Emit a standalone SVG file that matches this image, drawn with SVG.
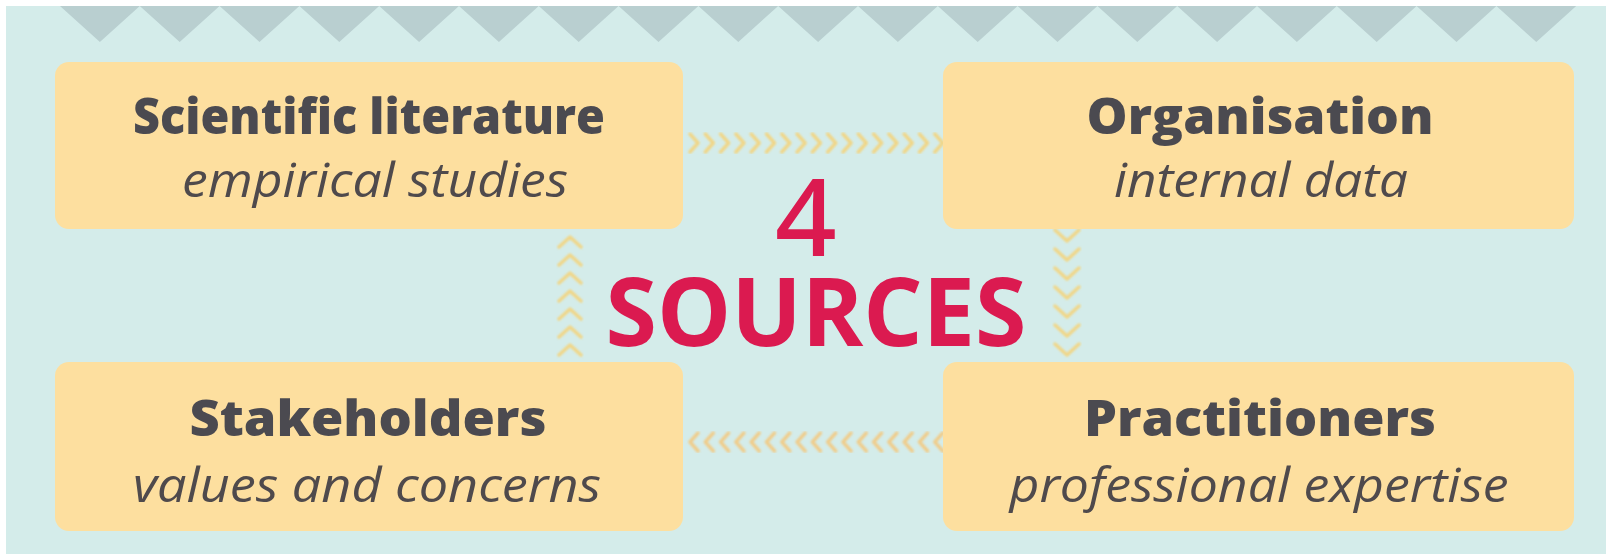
<svg xmlns="http://www.w3.org/2000/svg" width="1606" height="554" viewBox="0 0 1606 554">
  <defs>
    <style>
      .box { fill: #fddf9f; }
      .title { font-family: "Open Sans", "Liberation Sans", sans-serif; font-weight: 800; font-size: 50px; fill: #4b4a50; text-anchor: middle; }
      .sub { font-family: "Open Sans", "Liberation Sans", sans-serif; font-style: italic; font-weight: 400; font-size: 47px; fill: #4f4a4c; text-anchor: middle; }
      .big { font-family: "Open Sans", "Liberation Sans", sans-serif; fill: #db1a50; text-anchor: middle; }
      .digit { font-family: "Noto Sans", "Liberation Sans", sans-serif; font-weight: 500; fill: #db1a50; text-anchor: middle; }
      .chev { fill: none; stroke: #f6d275; stroke-width: 3.5; stroke-linecap: round; stroke-linejoin: round; opacity: 0.85; filter: url(#soft); }
    </style>
    <filter id="soft" x="-10%" y="-10%" width="120%" height="120%">
      <feGaussianBlur stdDeviation="0.9"/>
    </filter>
  </defs>

  <!-- backdrop -->
  <rect x="0" y="0" width="1606" height="554" fill="#ffffff"/>
  <rect x="6" y="6" width="1600" height="548" fill="#d4ecea"/>

  <!-- zigzag band along the top -->
  <path fill="#b9cfd0" d="M60,6 L99.9,42 L139.8,6 L179.7,42 L219.6,6 L259.5,42 L299.4,6 L339.3,42 L379.2,6 L419.1,42 L459,6 L498.9,42 L538.8,6 L578.7,42 L618.6,6 L658.5,42 L698.4,6 L738.3,42 L778.2,6 L818.1,42 L858,6 L897.9,42 L937.8,6 L977.7,42 L1017.6,6 L1057.5,42 L1097.4,6 L1137.3,42 L1177.2,6 L1217.1,42 L1257,6 L1296.9,42 L1336.8,6 L1376.7,42 L1416.6,6 L1456.5,42 L1496.4,6 L1536.3,42 L1576.2,6 Z"/>

  <!-- chevron connectors -->
  <g id="connectors">
    <!-- top: left box to right box -->
    <path class="chev" d="M690,134 l8,9 l-8,9 M705.3,134 l8,9 l-8,9 M720.6,134 l8,9 l-8,9 M735.9,134 l8,9 l-8,9 M751.2,134 l8,9 l-8,9 M766.5,134 l8,9 l-8,9 M781.8,134 l8,9 l-8,9 M797.1,134 l8,9 l-8,9 M812.4,134 l8,9 l-8,9 M827.7,134 l8,9 l-8,9 M843,134 l8,9 l-8,9 M858.3,134 l8,9 l-8,9 M873.6,134 l8,9 l-8,9 M888.9,134 l8,9 l-8,9 M904.2,134 l8,9 l-8,9 M919.5,134 l8,9 l-8,9 M934.8,134 l8,9 l-8,9"/>
    <!-- right: top box down to bottom box -->
    <path class="chev" d="M1055,230 l12,11 l12,-11 M1055,249 l12,11 l12,-11 M1055,268 l12,11 l12,-11 M1055,287 l12,11 l12,-11 M1055,306 l12,11 l12,-11 M1055,325 l12,11 l12,-11 M1055,344 l12,11 l12,-11"/>
    <!-- bottom: right box to left box -->
    <path class="chev" d="M698,433 l-8,9 l8,9 M713.3,433 l-8,9 l8,9 M728.6,433 l-8,9 l8,9 M743.9,433 l-8,9 l8,9 M759.2,433 l-8,9 l8,9 M774.5,433 l-8,9 l8,9 M789.8,433 l-8,9 l8,9 M805.1,433 l-8,9 l8,9 M820.4,433 l-8,9 l8,9 M835.7,433 l-8,9 l8,9 M851,433 l-8,9 l8,9 M866.3,433 l-8,9 l8,9 M881.6,433 l-8,9 l8,9 M896.9,433 l-8,9 l8,9 M912.2,433 l-8,9 l8,9 M927.5,433 l-8,9 l8,9 M942.8,433 l-8,9 l8,9" style="stroke:#f5c77a"/>
    <!-- left: bottom box up to top box -->
    <path class="chev" d="M559,247 l11,-10 l11,10 M559,265 l11,-10 l11,10 M559,283 l11,-10 l11,10 M559,301 l11,-10 l11,10 M559,319 l11,-10 l11,10 M559,337 l11,-10 l11,10 M559,355 l11,-10 l11,10"/>
  </g>

  <!-- four source nodes -->
  <g id="scientific-literature">
    <rect class="box" x="55" y="62" width="628" height="167" rx="14"/>
    <text class="title" x="369" y="134" textLength="472" lengthAdjust="spacingAndGlyphs">Scientific literature</text>
    <text class="sub" x="375" y="197" textLength="386" lengthAdjust="spacingAndGlyphs">empirical studies</text>
  </g>

  <g id="organisation">
    <rect class="box" x="943" y="62" width="631" height="167" rx="14"/>
    <text class="title" x="1260" y="134" textLength="347" lengthAdjust="spacingAndGlyphs">Organisation</text>
    <text class="sub" x="1261" y="197" textLength="294" lengthAdjust="spacingAndGlyphs">internal data</text>
  </g>

  <g id="stakeholders">
    <rect class="box" x="55" y="362" width="628" height="169" rx="14"/>
    <text class="title" x="368" y="436" textLength="357" lengthAdjust="spacingAndGlyphs">Stakeholders</text>
    <text class="sub" x="367" y="502" textLength="468" lengthAdjust="spacingAndGlyphs">values and concerns</text>
  </g>

  <g id="practitioners">
    <rect class="box" x="943" y="362" width="631" height="169" rx="14"/>
    <text class="title" x="1260" y="436" textLength="352" lengthAdjust="spacingAndGlyphs">Practitioners</text>
    <text class="sub" x="1259" y="502" textLength="499" lengthAdjust="spacingAndGlyphs">professional expertise</text>
  </g>

  <!-- centre heading -->
  <g id="heading">
    <text class="digit" x="806" y="256" font-size="108">4</text>
    <text class="big" x="816" y="346" font-size="95" font-weight="700" textLength="421" lengthAdjust="spacingAndGlyphs">SOURCES</text>
  </g>
</svg>
